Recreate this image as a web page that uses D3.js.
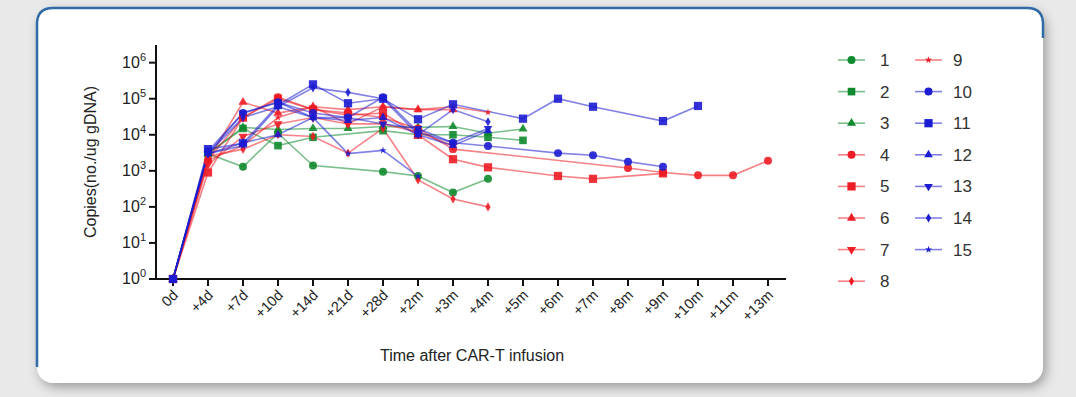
<!DOCTYPE html>
<html>
<head>
<meta charset="utf-8">
<script src="https://cdn.jsdelivr.net/npm/d3@7"></script>
<style>
  html, body { margin: 0; padding: 0; background: #e9e9e9; }
  svg { display: block; font-family: "Liberation Sans", Arial, sans-serif; }
</style>
</head>
<body>
<svg id="chart" width="1076" height="397"></svg>
<script>
// time points on the x axis
const categories = ["0d","+4d","+7d","+10d","+14d","+21d","+28d","+2m","+3m","+4m","+5m","+6m","+7m","+8m","+9m","+10m","+11m","+13m"];

// copies per ug gDNA, one array per patient (null = not measured)
const s1  = [1, 3000, 1300, 11000, 1400, null, 950, 720, 250, 600];
const s2  = [1, 3000, 15000, 5000, 8500, null, 13000, 10000, 10000, 8500, 7000];
const s3  = [1, 3000, 16000, 14000, 15000, 15000, 17000, 16000, 17000, 11000, 14500];
const s4  = [1, 2000, 30000, 110000, 50000, 40000, 30000, 15000, 4000, null, null, null, null, 1200, 900, 750, 750, 1900];
const s5  = [1, 900, 30000, 100000, 50000, 35000, 40000, 10000, 2100, 1250, null, 720, 600, null, 850];
const s6  = [1, 2000, 80000, 40000, 60000, 50000, 60000, 50000, 50000];
const s7  = [1, 1500, 9000, 20000, 30000, 20000, 20000, 12000, 5000];
const s8  = [1, 2500, 4000, 10000, 9000, 3100, 15000, 560, 165, 100];
const s9  = [1, 2000, 5000, 30000, 60000, 20000, 60000, 50000, 60000, 42000];
const s10 = [1, 3500, 40000, 80000, 40000, 30000, 110000, 12000, 6000, 4900, null, 3100, 2700, 1800, 1300];
const s11 = [1, 4000, 5800, 67000, 250000, 75000, 100000, 27000, 70000, null, 28000, 100000, 60000, null, 24000, 63000];
const s12 = [1, 3000, 6000, 10000, 30000, 25000, 30000, 10000, 5000, 13000];
const s13 = [1, 3000, 40000, 80000, 30000, 30000, 20000, 15000, 6000, 15000];
const s14 = [1, 3000, 30000, 60000, 200000, 150000, 100000, 10000, 50000, 23000];
const s15 = [1, 3000, 5000, 60000, 30000, 3000, 3700, 700];

const seriesNames = ["1","2","3","4","5","6","7","8","9","10","11","12","13","14","15"];
const seriesValues = [s1, s2, s3, s4, s5, s6, s7, s8, s9, s10, s11, s12, s13, s14, s15];
const yTickValues = [1, 10, 100, 1000, 10000, 100000, 1000000];

// styling per patient: colour group + marker
const GREEN = "#0f8a2e", RED = "#ee1c25", BLUE = "#1c1cd2";
const groupColor = [GREEN, GREEN, GREEN, RED, RED, RED, RED, RED, RED, BLUE, BLUE, BLUE, BLUE, BLUE, BLUE];
const markers = [
  { t: d3.symbolCircle, s: 50 }, { t: d3.symbolSquare, s: 58 }, { t: d3.symbolTriangle, s: 36 },
  { t: d3.symbolCircle, s: 50 }, { t: d3.symbolSquare, s: 68 }, { t: d3.symbolTriangle, s: 36 },
  { t: d3.symbolTriangle, s: 36, flip: true }, { t: d3.symbolDiamond, s: 24 }, { t: d3.symbolStar, s: 16 },
  { t: d3.symbolCircle, s: 50 }, { t: d3.symbolSquare, s: 68 }, { t: d3.symbolTriangle, s: 32 },
  { t: d3.symbolTriangle, s: 32, flip: true }, { t: d3.symbolDiamond, s: 24 }, { t: d3.symbolStar, s: 16 }
];

const svg = d3.select("#chart");

// card background
const defs = svg.append("defs");
const f = defs.append("filter").attr("id", "shadow").attr("x", "-5%").attr("y", "-10%").attr("width", "110%").attr("height", "125%");
f.append("feDropShadow").attr("dx", 3).attr("dy", 4).attr("stdDeviation", 6).attr("flood-color", "#000").attr("flood-opacity", 0.35);

const card = { x: 37, y: 8, w: 1006, h: 375, r: 16 };
svg.append("rect")
  .attr("x", card.x).attr("y", card.y).attr("width", card.w).attr("height", card.h)
  .attr("rx", card.r).attr("fill", "#fff").attr("filter", "url(#shadow)");
const bl = card.x, bt = card.y, br = card.x + card.w, r = card.r;
svg.append("path")
  .attr("d", `M${bl},${card.y + card.h - r} L${bl},${bt + r} Q${bl},${bt} ${bl + r},${bt} L${br - r},${bt} Q${br},${bt} ${br},${bt + r} L${br},${bt + 30}`)
  .attr("fill", "none").attr("stroke", "#2f6ca6").attr("stroke-width", 2.5);

// scales
const x = d3.scalePoint().domain(categories).range([173, 768]);
const y = d3.scaleLog().domain([1, Math.pow(10, 6.49)]).range([279, 45]);

// y axis
const yAxis = svg.append("g").attr("transform", "translate(156,0)");
yAxis.append("line").attr("x1", 0).attr("x2", 0).attr("y1", 45).attr("y2", 280)
  .attr("stroke", "#111").attr("stroke-width", 2);
yTickValues.forEach(v => {
  const yy = y(v);
  yAxis.append("line").attr("x1", -7).attr("x2", 0).attr("y1", yy).attr("y2", yy)
    .attr("stroke", "#111").attr("stroke-width", 2);
  const t = yAxis.append("text").attr("x", -10).attr("y", yy + 5)
    .attr("text-anchor", "end").attr("font-size", 16).attr("fill", "#222");
  t.append("tspan").text("10");
  t.append("tspan").attr("dy", -7).attr("font-size", 11).text(Math.round(Math.log10(v)));
});

// x axis
const xAxis = svg.append("g").attr("transform", "translate(0,279)");
xAxis.append("line").attr("x1", 155).attr("x2", 786).attr("y1", 0).attr("y2", 0)
  .attr("stroke", "#111").attr("stroke-width", 2);
categories.forEach(c => {
  const xx = x(c);
  xAxis.append("line").attr("x1", xx).attr("x2", xx).attr("y1", 0).attr("y2", 7)
    .attr("stroke", "#111").attr("stroke-width", 2);
  xAxis.append("text")
    .attr("transform", `translate(${xx + 6},${17}) rotate(-45)`)
    .attr("text-anchor", "end").attr("font-size", 14.5).attr("fill", "#222")
    .text(c);
});

// axis titles
svg.append("text").attr("x", 472).attr("y", 361).attr("text-anchor", "middle")
  .attr("font-size", 16).attr("fill", "#222").text("Time after CAR-T infusion");
svg.append("text").attr("transform", "translate(96,162) rotate(-90)").attr("text-anchor", "middle")
  .attr("font-size", 16).attr("fill", "#222").text("Copies(no./ug gDNA)");

// lines + markers
const line = d3.line().x(d => x(d.c)).y(d => y(d.v));
const symbolPath = m => d3.symbol().type(m.t).size(m.s)();

const plot = svg.append("g");
seriesValues.forEach((vals, i) => {
  const pts = vals.map((v, j) => ({ c: categories[j], v })).filter(d => d.v != null);
  plot.append("path").datum(pts).attr("d", line)
    .attr("fill", "none").attr("stroke", groupColor[i]).attr("stroke-opacity", 0.55).attr("stroke-width", 1.6);
});
seriesValues.forEach((vals, i) => {
  const m = markers[i];
  const pts = vals.map((v, j) => ({ c: categories[j], v })).filter(d => d.v != null);
  plot.append("g").selectAll("path").data(pts).join("path")
    .attr("d", symbolPath(m))
    .attr("transform", d => `translate(${x(d.c)},${y(d.v)})${m.flip ? " rotate(180)" : ""}`)
    .attr("fill", groupColor[i]).attr("fill-opacity", 0.9);
});

// legend
const legend = svg.append("g");
seriesNames.forEach((name, i) => {
  const col = i < 8 ? 0 : 1;
  const row = i < 8 ? i : i - 8;
  const lx = col === 0 ? 838 : 915;
  const ly = 60 + row * 31.6;
  const g = legend.append("g").attr("transform", `translate(${lx},${ly})`);
  g.append("line").attr("x1", 0).attr("x2", 27).attr("y1", 0).attr("y2", 0)
    .attr("stroke", groupColor[i]).attr("stroke-opacity", 0.55).attr("stroke-width", 1.6);
  g.append("path").attr("d", symbolPath(markers[i]))
    .attr("transform", `translate(13.5,0)${markers[i].flip ? " rotate(180)" : ""}`)
    .attr("fill", groupColor[i]);
  g.append("text").attr("x", col === 0 ? 42 : 38).attr("y", 6)
    .attr("font-size", 17).attr("fill", "#333").text(name);
});
</script>
</body>
</html>
